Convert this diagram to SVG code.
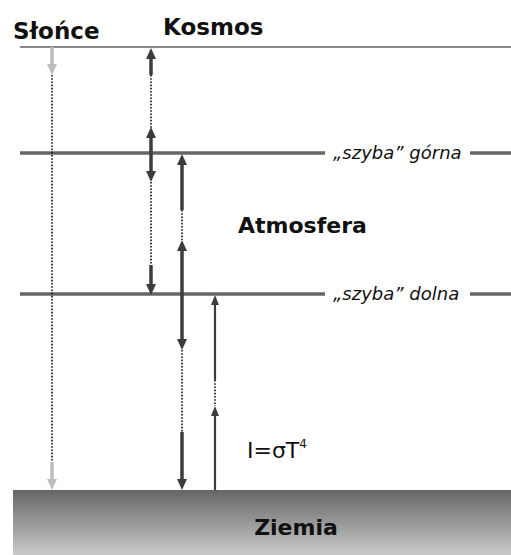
<svg xmlns="http://www.w3.org/2000/svg" width="511" height="555" viewBox="0 0 511 555">
<style>
.t{font-family:"DejaVu Sans",Verdana,sans-serif;fill:#111}
.b{font-weight:bold}
.i{font-style:italic;font-size:18px}
.pane{stroke:#666;stroke-width:3.5;fill:none}
.a{stroke:#3c3c3c;stroke-width:3.5;fill:none}
.a2{stroke:#3c3c3c;stroke-width:2.2;fill:none}
.dot{stroke:#111;stroke-width:1.6;stroke-dasharray:1.6 1.6;fill:none}
.sun{stroke:#bdbdbd;stroke-width:3.5;fill:none}
.hd{fill:#3c3c3c}
.hs{fill:#bdbdbd}
</style>
<defs>
<linearGradient id="g" x1="0" y1="0" x2="0" y2="1">
<stop offset="0" stop-color="#666"/>
<stop offset="1" stop-color="#cacaca"/>
</linearGradient>
</defs>
<g id="ziemia">
<rect x="13" y="490" width="498" height="65" fill="url(#g)"/>
<text class="t b" x="296" y="535" font-size="22" text-anchor="middle">Ziemia</text>
</g>
<g id="kosmos">
<line x1="20" y1="47" x2="511" y2="47" stroke="#111" stroke-width="1"/>
<text class="t b" x="13" y="39" font-size="23">Słońce</text>
<text class="t b" x="163" y="35" font-size="23">Kosmos</text>
</g>
<g id="szyba-gorna">
<line class="pane" x1="20" y1="153" x2="325" y2="153"/>
<line class="pane" x1="470" y1="153" x2="511" y2="153"/>
<text class="t i" x="333" y="159">„szyba” górna</text>
</g>
<g id="atmosfera">
<text class="t b" x="238" y="233" font-size="22">Atmosfera</text>
</g>
<g id="szyba-dolna">
<line class="pane" x1="20" y1="294" x2="325" y2="294"/>
<line class="pane" x1="470" y1="294" x2="511" y2="294"/>
<text class="t i" x="333" y="300">„szyba” dolna</text>
</g>
<g id="wzor">
<text class="t" x="247" y="458" font-size="22" fill="#333">I=σT<tspan font-size="12" dy="-10">4</tspan></text>
</g>
<g id="connectors">
<line class="sun" x1="52" y1="47" x2="52" y2="66"/>
<polygon class="hs" points="47,64 57,64 52,75"/>
<line class="dot" x1="52" y1="75" x2="52" y2="462"/>
<line class="sun" x1="52" y1="462" x2="52" y2="481"/>
<polygon class="hs" points="47,479 57,479 52,490"/>
<line class="a" x1="151" y1="57" x2="151" y2="75"/>
<polygon class="hd" points="146,59 156,59 151,48"/>
<line class="dot" x1="151" y1="75" x2="151" y2="128"/>
<line class="a" x1="151" y1="136" x2="151" y2="172"/>
<polygon class="hd" points="146,138 156,138 151,127"/>
<polygon class="hd" points="146,171 156,171 151,182"/>
<line class="dot" x1="151" y1="182" x2="151" y2="265"/>
<line class="a" x1="151" y1="265" x2="151" y2="285"/>
<polygon class="hd" points="146,284 156,284 151,295"/>
<line class="a" x1="182" y1="163" x2="182" y2="210"/>
<polygon class="hd" points="177,165 187,165 182,154"/>
<line class="dot" x1="182" y1="210" x2="182" y2="240"/>
<line class="a" x1="182" y1="249" x2="182" y2="341"/>
<polygon class="hd" points="177,251 187,251 182,240"/>
<polygon class="hd" points="177,339 187,339 182,350"/>
<line class="dot" x1="182" y1="350" x2="182" y2="432"/>
<line class="a" x1="182" y1="432" x2="182" y2="481"/>
<polygon class="hd" points="177,479 187,479 182,490"/>
<line class="a2" x1="215" y1="303" x2="215" y2="380"/>
<polygon class="hd" points="211,305 219,305 215,295"/>
<line class="dot" x1="215" y1="380" x2="215" y2="406"/>
<line class="a2" x1="215" y1="414" x2="215" y2="490"/>
<polygon class="hd" points="211,416 219,416 215,406"/>
</g>
</svg>
